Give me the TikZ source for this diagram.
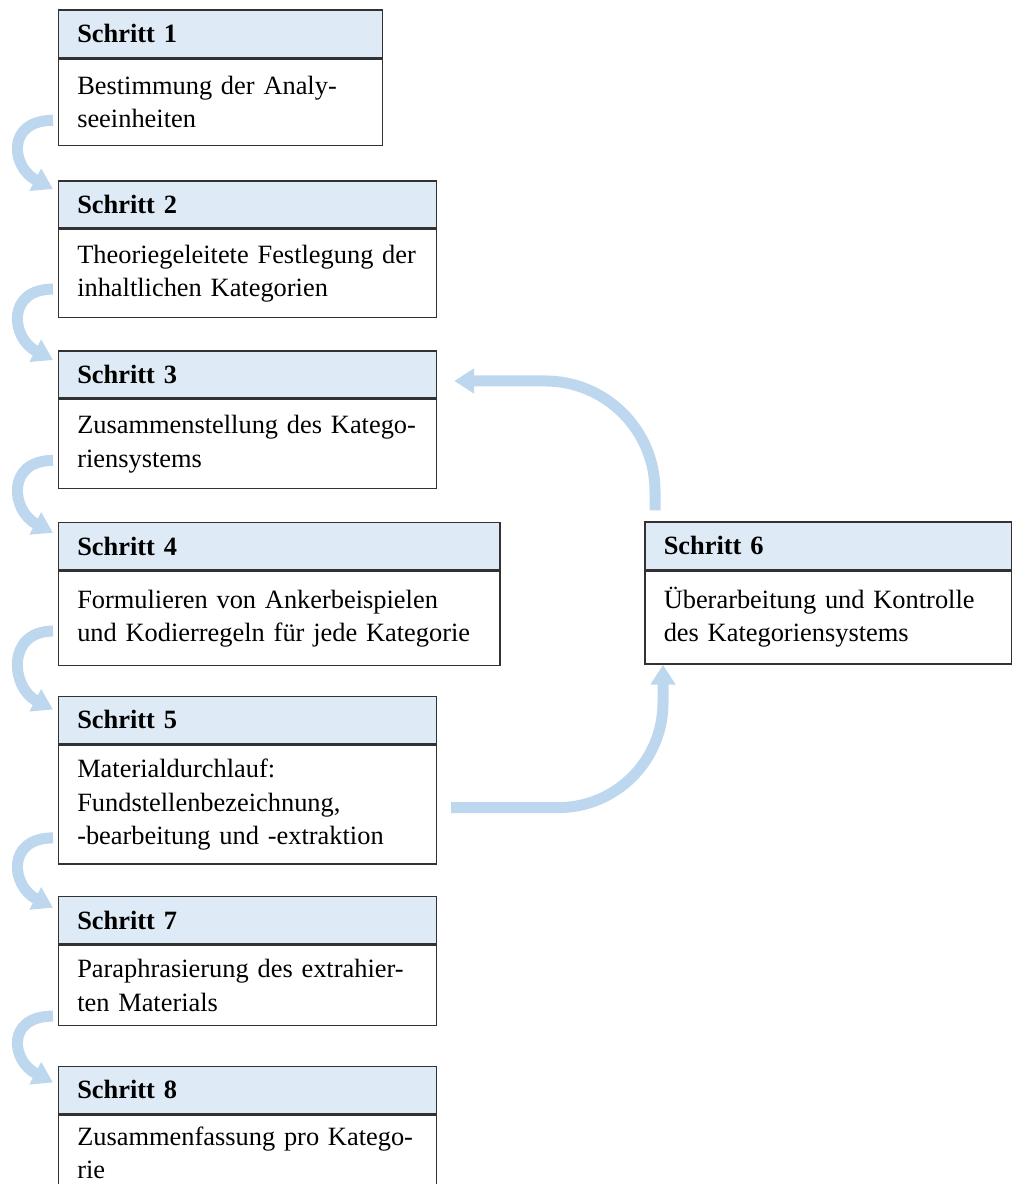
\documentclass[tikz,border=0pt]{standalone}
\usepackage{fontspec}
\setmainfont{Liberation Serif}
\usetikzlibrary{positioning,arrows.meta,calc}
\definecolor{kopfblau}{RGB}{222,235,247}
\definecolor{pfeilblau}{RGB}{189,215,238}
\definecolor{rahmen}{RGB}{50,50,50}
\newcommand\schrift{\fontsize{26.4pt}{33.3pt}\selectfont}
\tikzset{
  kopf/.style={draw=rahmen, line width=1.5pt, fill=kopfblau, anchor=north west,
    inner xsep=19pt, inner ysep=0pt, minimum height=47.4pt, align=left, font=\schrift\bfseries},
  feld/.style={draw=rahmen, line width=1.5pt, fill=white, anchor=north west,
    inner xsep=19pt, inner ysep=0pt, align=left, font=\schrift},
  pfeil/.style={pfeilblau, line width=11pt, -{Triangle[length=20pt,width=24pt]}}
}
\begin{document}
\begin{tikzpicture}[x=1pt, y=-1pt]
    \useasboundingbox (0,0) rectangle (1012,1184);
    % die Schritte
    \node (h1) [kopf, text width=286.2pt] at (57.5,9.3) {Schritt 1};
    \node (s1) [feld, text width=286.2pt, minimum height=86.6pt] at (h1.south west) {Bestimmung der Analy-\\seeinheiten};
    \node (h2) [kopf, text width=340.2pt] at (57.5,180) {Schritt 2};
    \node (s2) [feld, text width=340.2pt, minimum height=87.7pt] at (h2.south west) {Theoriegeleitete Festlegung der\\inhaltlichen Kategorien};
    \node (h3) [kopf, text width=340.2pt] at (57.5,350) {Schritt 3};
    \node (s3) [feld, text width=340.2pt, minimum height=89pt] at (h3.south west) {Zusammenstellung des Katego-\\riensystems};
    \node (h4) [kopf, text width=403.8pt] at (57.5,521.7) {Schritt 4};
    \node (s4) [feld, text width=403.8pt, minimum height=94pt] at (h4.south west) {Formulieren von Ankerbeispielen\\und Kodierregeln für jede Kategorie};
    \node (h5) [kopf, text width=340.2pt] at (57.5,695.5) {Schritt 5};
    \node (s5) [feld, text width=340.2pt, minimum height=119pt] at (h5.south west) {Materialdurchlauf:\\Fundstellenbezeichnung,\\-bearbeitung und -extraktion};
    \node (h6) [kopf, text width=329pt] at (644,521.3) {Schritt 6};
    \node (s6) [feld, text width=329pt, minimum height=93pt] at (h6.south west) {Überarbeitung und Kontrolle\\des Kategoriensystems};
    \node (h7) [kopf, text width=340.2pt] at (57.5,895.7) {Schritt 7};
    \node (s7) [feld, text width=340.2pt, minimum height=80pt] at (h7.south west) {Paraphrasierung des extrahier-\\ten Materials};
    \node (h8) [kopf, text width=340.2pt] at (57.5,1065.5) {Schritt 8};
    \node (s8) [feld, text width=340.2pt, minimum height=76pt] at (h8.south west) {Zusammenfassung pro Katego-\\rie};

    % die Boegen links
    \draw [pfeil] ($(s1.south west)+(-4.5,-26)$) .. controls +(-47,0) and +(-42,-22) .. ($(h2.north west)+(-4.5,9)$);
    \draw [pfeil] ($(s2.south west)+(-4.5,-29)$) .. controls +(-47,0) and +(-42,-22) .. ($(h3.north west)+(-4.5,10)$);
    \draw [pfeil] ($(s3.south west)+(-4.5,-29)$) .. controls +(-47,0) and +(-42,-22) .. ($(h4.north west)+(-4.5,11)$);
    \draw [pfeil] ($(s4.south west)+(-4.5,-35)$) .. controls +(-47,0) and +(-42,-22) .. ($(h5.north west)+(-4.5,14)$);
    \draw [pfeil] ($(s5.south west)+(-4.5,-27)$) .. controls +(-47,0) and +(-42,-22) .. ($(h7.north west)+(-4.5,12)$);
    \draw [pfeil] ($(s7.south west)+(-4.5,-10)$) .. controls +(-47,0) and +(-42,-22) .. ($(h8.north west)+(-4.5,17)$);

    % Schleife ueber Schritt 6
    \draw [pfeil, rounded corners=105pt] ($(s5.east)+(14,3)$) -| ($(s6.south west)+(19,0)$);
    \draw [pfeil, rounded corners=110pt] ($(h6.north west)+(11,-11)$) |- ($(h3.east)+(17,6.5)$);
\end{tikzpicture}
\end{document}
